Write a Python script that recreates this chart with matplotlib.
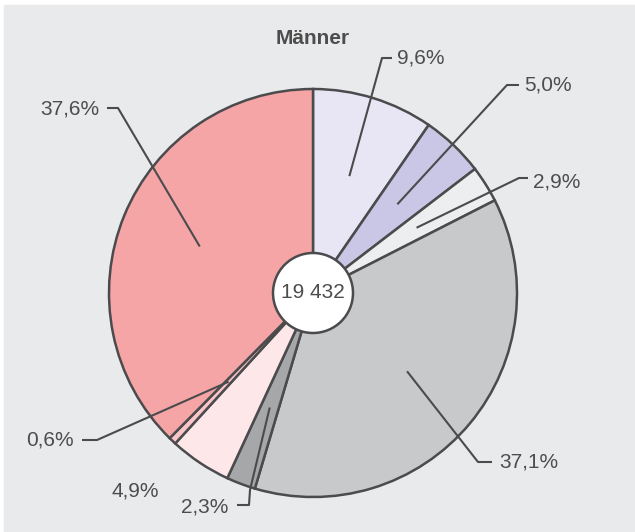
import numpy as np
import matplotlib.pyplot as plt
from matplotlib.patches import Rectangle, Circle

plt.rcParams['font.family'] = ['Liberation Sans', 'DejaVu Sans']

title = "Männer"
total_label = "19 432"
shares = [9.6, 5.0, 2.9, 37.1, 2.3, 4.9, 0.6, 37.6]
labels = ["9,6%", "5,0%", "2,9%", "37,1%", "2,3%", "4,9%", "0,6%", "37,6%"]
colors = ["#e8e6f5", "#c9c7e5", "#eceef0", "#c8c9cb",
          "#a6a7a9", "#fde7e9", "#f9c5c8", "#f6a5a7"]

W, H = 635, 532
bg = "#e9eaec"
edge = "#4b4b4d"
txt = "#4d4d4d"

# label layout in pixels (y from top): text x, text y, ha, elbow points
layout = [
    (397, 58, "left", [(392, 58), (382, 58)]),
    (524, 85, "left", [(519, 85), (507, 85)]),
    (533, 182, "left", [(528, 178), (519, 178)]),
    (499, 462, "left", [(492, 462), (478, 462)]),
    (228, 507, "right", [(237, 505), (249, 505), (250, 490)]),
    (159, 491, "right", None),
    (74, 440, "right", [(82, 440), (97, 440)]),
    (99, 109, "right", [(107, 108), (118, 108)]),
]

fig = plt.figure(figsize=(W / 100, H / 100), dpi=100)
ax = fig.add_axes([0, 0, 1, 1])
ax.add_patch(Rectangle((4, 0), W - 4, H - 5, color=bg, zorder=0))

cx, cy, R = 313, H - 293, 204
wedges, _ = ax.pie(shares, colors=colors, startangle=90, counterclock=False,
                   center=(cx, cy), radius=R, frame=True,
                   wedgeprops=dict(edgecolor=edge, linewidth=1.8, zorder=2))
ax.set_xlim(0, W)
ax.set_ylim(0, H)
ax.axis('off')

for w, lab, (tx, ty, ha, elbow) in zip(wedges, labels, layout):
    ax.text(tx, H - ty, lab, ha=ha, va="center", fontsize=15, color=txt, zorder=5)
    if elbow is None:
        continue
    mid = np.deg2rad((w.theta1 + w.theta2) / 2)
    ix, iy = cx + 0.6 * R * np.cos(mid), cy + 0.6 * R * np.sin(mid)
    xs = [p[0] for p in elbow] + [ix]
    ys = [H - p[1] for p in elbow] + [iy]
    ax.plot(xs, ys, color=edge, lw=1.5, zorder=4, solid_capstyle="butt")

ax.add_patch(Circle((cx, cy), 40, facecolor="white", edgecolor=edge, lw=1.8, zorder=6))
ax.text(cx, cy, total_label, ha="center", va="center", fontsize=15, color=txt, zorder=7)
ax.text(cx, H - 39, title, ha="center", va="center", fontsize=15, fontweight="bold",
        color=txt, zorder=5)

fig.savefig("out.png", dpi=100)
